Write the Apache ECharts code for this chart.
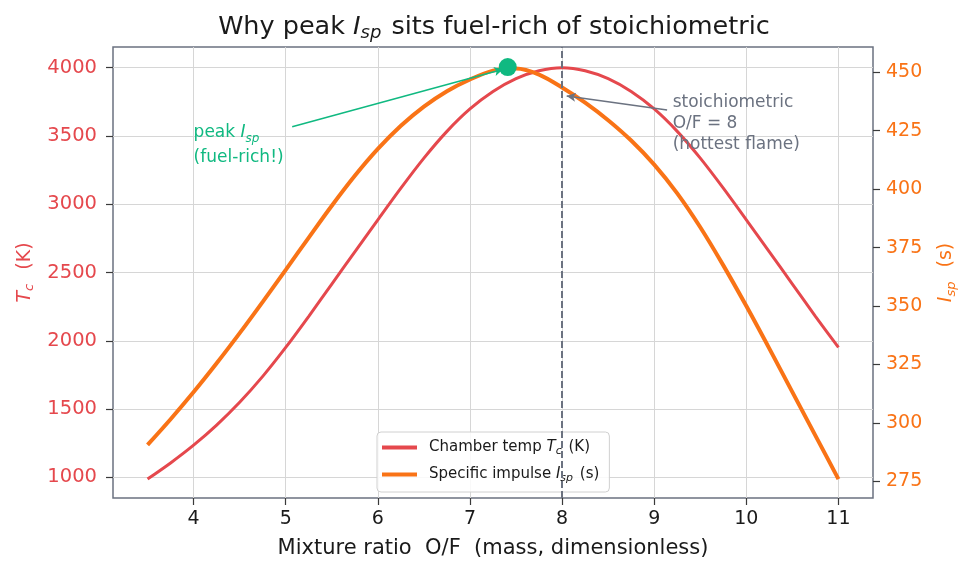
<!DOCTYPE html>
<html>
<head>
<meta charset="utf-8">
<script src="https://cdn.jsdelivr.net/npm/echarts@6/dist/echarts.min.js"></script>
<style>
  html, body { margin: 0; padding: 0; background: #fff; }
  #chart { width: 975px; height: 575px; }
</style>
</head>
<body>
<div id="chart"></div>
<script>
// mixture ratio O/F sampled along the curves
const ofRatio = [3.5, 3.75, 4, 4.25, 4.5, 4.75, 5, 5.25, 5.5, 5.75, 6, 6.25, 6.5, 6.75, 7, 7.25,
                 7.5, 7.75, 8, 8.25, 8.5, 8.75, 9, 9.25, 9.5, 9.75, 10, 10.25, 10.5, 10.75, 11];
// chamber temperature, K
const chamberTemp = [987, 1105, 1235, 1382, 1549, 1739, 1951, 2179, 2415, 2651, 2886, 3118, 3338, 3534, 3698, 3826,
                     3920, 3978, 4000, 3978, 3920, 3826, 3698, 3534, 3338, 3118, 2886, 2651, 2415, 2179, 1951];
// specific impulse, s
const specificImpulse = [290.6, 301.6, 313.2, 325.5, 338.4, 351.8, 365.5, 379.3, 392.9, 405.7, 417.2, 427.1, 435.3, 441.9, 446.9, 450.7,
                         451.6, 449.0, 443.5, 437.0, 429.5, 420.8, 410.5, 398.2, 383.7, 367.4, 350.0, 331.8, 313.2, 294.6, 276.0];

const peakOF = [7.41];
const peakIsp = [452.2];
const stoichOF = [8];

const xTicks = [4, 5, 6, 7, 8, 9, 10, 11];
const tempTicks = [1000, 1500, 2000, 2500, 3000, 3500, 4000];
const ispTicks = [275, 300, 325, 350, 375, 400, 425, 450];

const RED = "#e5484d";
const ORANGE = "#f97316";
const GREEN = "#10b981";
const GRAY = "#6b7280";
const INK = "#1a1a1a";
const FONT = "DejaVu Sans";

const chart = echarts.init(document.getElementById("chart"), null, { renderer: "canvas" });

// rich styles for "X_sub" style labels
const subRich = (size, color) => ({
  n: { fontSize: size, color: color, fontFamily: FONT, fontWeight: "normal", lineHeight: size + 4 },
  i: { fontSize: size, color: color, fontFamily: FONT, fontWeight: "normal", fontStyle: "italic", lineHeight: size + 4 },
  s: { fontSize: Math.round(size * 0.7), color: color, fontFamily: FONT, fontWeight: "normal", fontStyle: "italic",
       verticalAlign: "bottom", lineHeight: Math.round(size * 0.7), padding: [0, 2, 0, 0] },
});

const legendText = {
  "Chamber temp Tc (K)": "{n|Chamber temp }{i|T}{s|c}{n| (K)}",
  "Specific impulse Isp (s)": "{n|Specific impulse }{i|I}{s|sp}{n| (s)}",
};

const plain = (v) => String(v);

const option = {
  animation: false,
  backgroundColor: "#fff",
  textStyle: { fontFamily: FONT },
  title: {
    text: "{n|Why peak }{i|I}{s|sp}{n| sits fuel-rich of stoichiometric}",
    left: 489,
    top: 8,
    textAlign: "center",
    textStyle: { fontWeight: "normal", rich: subRich(25.5, INK) },
  },
  grid: {
    left: 113, right: 102, top: 47, bottom: 77,
    show: true, borderColor: GRAY, borderWidth: 1.5, backgroundColor: "transparent",
  },
  legend: {
    data: ["Chamber temp Tc (K)", "Specific impulse Isp (s)"],
    left: 377, top: 432,
    orient: "vertical",
    icon: "rect",
    itemWidth: 35, itemHeight: 4, itemGap: 10,
    padding: [8, 10, 8, 5],
    borderColor: "#d0d0d0", borderWidth: 1, borderRadius: 4,
    backgroundColor: "rgba(255,255,255,0.85)",
    formatter: (name) => legendText[name],
    textStyle: { padding: [0, 0, 0, 7], rich: subRich(15, INK) },
  },
  xAxis: {
    type: "value",
    min: 3.125, max: 11.375,
    name: "Mixture ratio  O/F  (mass, dimensionless)",
    nameLocation: "middle",
    nameGap: 40,
    nameTextStyle: { fontSize: 21, color: INK, fontFamily: FONT },
    axisLine: { show: false },
    axisTick: { show: true, customValues: xTicks, length: 7, lineStyle: { color: "#3a3a3a", width: 1.2 } },
    axisLabel: { customValues: xTicks, formatter: plain, fontSize: 19, color: INK, margin: 12, fontFamily: FONT },
    splitLine: { show: true, lineStyle: { color: "#d6d6d6", width: 1 } },
  },
  yAxis: [
    {
      type: "value",
      position: "left",
      min: 848, max: 4152,
      name: "{i|T}{s|c}{n|  (K)}",
      nameLocation: "middle",
      nameRotate: 90,
      nameGap: 76,
      nameTextStyle: { rich: subRich(19, RED) },
      axisLine: { show: false },
      axisTick: { show: true, customValues: tempTicks, length: 7, lineStyle: { color: "#3a3a3a", width: 1.2 } },
      axisLabel: { customValues: tempTicks, formatter: plain, fontSize: 19.5, color: RED, margin: 16, fontFamily: FONT },
      splitLine: { show: true, lineStyle: { color: "#d6d6d6", width: 1 } },
    },
    {
      type: "value",
      position: "right",
      min: 267.9, max: 460.8,
      name: "{i|I}{s|sp}{n|  (s)}",
      nameLocation: "middle",
      nameRotate: 90,
      nameGap: 62,
      nameTextStyle: { rich: subRich(19, ORANGE) },
      axisLine: { show: false },
      axisTick: { show: true, customValues: ispTicks, length: 7, lineStyle: { color: "#3a3a3a", width: 1.2 } },
      axisLabel: { customValues: ispTicks, formatter: plain, fontSize: 19, color: ORANGE, margin: 13, fontFamily: FONT },
      splitLine: { show: false },
    },
  ],
  series: [
    {
      name: "Chamber temp Tc (K)",
      type: "line",
      yAxisIndex: 0,
      data: ofRatio.map((x, i) => [x, chamberTemp[i]]),
      smooth: 0.3,
      showSymbol: false,
      lineStyle: { color: RED, width: 3 },
      itemStyle: { color: RED },
      z: 3,
      markLine: {
        silent: true,
        symbol: "none",
        label: { show: false },
        data: [
          { xAxis: stoichOF[0], lineStyle: { color: GRAY, width: 2, type: [7, 3] } },
          [
            { coord: [9.14, 3690], symbol: "none", lineStyle: { color: GRAY, width: 1.5, type: "solid" } },
            { coord: [8.05, 3793], symbol: "arrow", symbolSize: [7, 9] },
          ],
        ],
      },
    },
    {
      name: "Specific impulse Isp (s)",
      type: "line",
      yAxisIndex: 1,
      data: ofRatio.map((x, i) => [x, specificImpulse[i]]),
      smooth: 0.3,
      showSymbol: false,
      lineStyle: { color: ORANGE, width: 4 },
      itemStyle: { color: ORANGE },
      z: 4,
      markLine: {
        silent: true,
        symbol: "none",
        label: { show: false },
        data: [
          [
            { coord: [5.07, 426.7], symbol: "none", lineStyle: { color: GREEN, width: 1.5, type: "solid" } },
            { coord: [7.36, 451.3], symbol: "arrow", symbolSize: [7, 9] },
          ],
        ],
      },
    },
    {
      name: "peak",
      type: "scatter",
      yAxisIndex: 1,
      data: peakOF.map((x, i) => [x, peakIsp[i]]),
      symbolSize: 18,
      itemStyle: { color: GREEN, opacity: 1 },
      z: 6,
    },
  ],
};

chart.setOption(option);

// annotation texts anchored to data coordinates
const peakAt = chart.convertToPixel({ xAxisIndex: 0, yAxisIndex: 0 }, [4.0, 3620]);
const stoichAt = chart.convertToPixel({ xAxisIndex: 0, yAxisIndex: 0 }, [9.2, 3820]);

chart.setOption({
  graphic: [
    {
      type: "text",
      x: peakAt[0], y: peakAt[1],
      z: 10,
      style: {
        text: "{n|peak }{i|I}{s|sp}\n{n|(fuel-rich!)}",
        rich: {
          n: { fontSize: 17, color: GREEN, fontFamily: FONT, lineHeight: 25 },
          i: { fontSize: 17, color: GREEN, fontFamily: FONT, fontStyle: "italic", lineHeight: 25 },
          s: { fontSize: 12, color: GREEN, fontFamily: FONT, fontStyle: "italic", verticalAlign: "bottom", lineHeight: 18 },
        },
        fill: GREEN,
      },
    },
    {
      type: "text",
      x: stoichAt[0], y: stoichAt[1],
      z: 10,
      style: {
        text: "stoichiometric\nO/F = 8\n(hottest flame)",
        fill: GRAY,
        fontSize: 17,
        fontFamily: FONT,
        lineHeight: 21,
      },
    },
  ],
});
</script>
</body>
</html>
